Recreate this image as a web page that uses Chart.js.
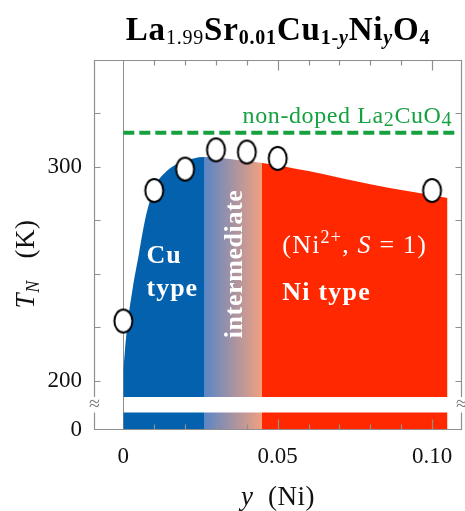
<!DOCTYPE html>
<html>
<head>
<meta charset="utf-8">
<title>TN vs Ni content</title>
<script src="https://cdn.jsdelivr.net/npm/chart.js@4.4.0/dist/chart.umd.min.js"></script>
<style>
  html, body { margin: 0; padding: 0; background: #fff; }
  #wrap { width: 465px; height: 511px; }
</style>
</head>
<body>
<div id="wrap"><canvas id="tnChart" width="465" height="511"></canvas></div>
<script>
// measured Neel temperatures (circles)
var nickel = [0, 0.01, 0.02, 0.03, 0.04, 0.05, 0.10];
var tN = [228, 289, 299, 308, 307, 304, 289];

// upper edge of the shaded ordered region
var edgeY = [0, 0.001, 0.003, 0.005, 0.007, 0.010, 0.014, 0.020, 0.026, 0.031, 0.038, 0.045, 0.060, 0.080, 0.105];
var edgeT = [205, 222, 243, 259, 275, 290, 298, 302.8, 304.7, 304.3, 303, 301.9, 298.1, 291.9, 285.5];

// phase boundaries along y
var cuEnd = 0.026, niStart = 0.045, regionEnd = 0.105;

// non-doped La2CuO4 reference
var undopedTN = 316;
var undopedSpan = [0, 0.108];

// part of the region drawn under the axis break
var lowBand = 8.5;

// ticks (all marks) and the ones that carry a label
var xTicks = [0, 0.01, 0.02, 0.03, 0.04, 0.05, 0.06, 0.07, 0.08, 0.09, 0.10];
var xLabels = [0, 0.05, 0.10];
var yTicksTop = [200, 225, 250, 275, 300, 325, 350];
var yLabelsTop = [200, 300];
var yLabelsLow = [0];

var SERIF = '"Liberation Serif", "Times New Roman", serif';
var BLUE = '#0461ad', RED = '#ff2800', GREEN = '#17a040', FRAME = '#8f8f8f';

function near(v, list) {
  for (var i = 0; i < list.length; i++) {
    if (Math.abs(v - list[i]) < 1e-6) return true;
  }
  return false;
}

// white ellipse with black outline, used as point style
var ring = document.createElement('canvas');
ring.width = 23; ring.height = 27;
(function() {
  var g = ring.getContext('2d');
  g.beginPath();
  g.ellipse(11.5, 13.5, 9, 11.5, 0, 0, Math.PI * 2);
  g.fillStyle = '#fff';
  g.fill();
  g.lineWidth = 2;
  g.strokeStyle = '#000';
  g.stroke();
})();

// blue -> gradient -> red fill across the three regimes
function phaseFill(ctx) {
  var chart = ctx.chart;
  if (!chart.chartArea) return BLUE;
  var x = chart.scales.x;
  var x0 = x.getPixelForValue(0), x3 = x.getPixelForValue(regionEnd);
  var a = (x.getPixelForValue(cuEnd) - x0) / (x3 - x0);
  var b = (x.getPixelForValue(niStart) - x0) / (x3 - x0);
  var g = chart.ctx.createLinearGradient(x0, 0, x3, 0);
  g.addColorStop(0, BLUE);
  g.addColorStop(a, BLUE);
  g.addColorStop(a + 0.002, '#5b86c6');
  g.addColorStop(b - 0.002, '#f0a080');
  g.addColorStop(b, RED);
  g.addColorStop(1, RED);
  return g;
}

// draw a row of differently styled pieces of text
function runs(c, parts, x, y, align, spacing) {
  c.letterSpacing = (spacing || 0) + 'px';
  var w = 0;
  parts.forEach(function(p) { c.font = p[1]; w += c.measureText(p[0]).width; });
  var cx = align === 'center' ? x - w / 2 : (align === 'right' ? x - w : x);
  c.textAlign = 'left';
  c.textBaseline = 'alphabetic';
  parts.forEach(function(p) {
    c.font = p[1];
    c.fillText(p[0], cx, y + (p[2] || 0));
    cx += c.measureText(p[0]).width;
  });
  c.letterSpacing = '0px';
}

function noPad(sc) {
  sc.paddingLeft = 0; sc.paddingRight = 0; sc.paddingTop = 0; sc.paddingBottom = 0;
}

var decor = {
  id: 'decor',
  afterDatasetsDraw: function(chart) {
    var c = chart.ctx, s = chart.scales;
    var px = function(v) { return s.x.getPixelForValue(v); };
    var py = function(v) { return s.yTop.getPixelForValue(v); };
    c.save();
    c.fillStyle = '#fff';
    runs(c, [['Cu', 'bold 26px ' + SERIF]], px(0.0075), py(255), 'left', 1);
    runs(c, [['type', 'bold 26px ' + SERIF]], px(0.0075), py(239.7), 'left', 1);
    runs(c, [['(Ni', '26px ' + SERIF], ['2+', '18px ' + SERIF, -10], [', ', '26px ' + SERIF],
             ['S', 'italic 26px ' + SERIF], [' = 1)', '26px ' + SERIF]], px(0.0515), py(259.7), 'left', 1.2);
    runs(c, [['Ni type', 'bold 26px ' + SERIF]], px(0.0515), py(238), 'left', 1.2);
    c.translate(px(0.0364), py(254.7));
    c.rotate(-Math.PI / 2);
    c.font = 'bold 26px ' + SERIF;
    c.letterSpacing = '0.6px';
    c.textAlign = 'center';
    c.textBaseline = 'middle';
    c.fillText('intermediate', 0, 0);
    c.restore();

    c.save();
    c.fillStyle = GREEN;
    runs(c, [['non-doped La', '24px ' + SERIF], ['2', '20px ' + SERIF, 3], ['CuO', '24px ' + SERIF], ['4', '20px ' + SERIF, 3]],
         px(0.1065), py(320.6), 'right', 0.6);
    c.restore();
  },
  afterDraw: function(chart) {
    var c = chart.ctx, a = chart.chartArea, s = chart.scales;
    var gapTop = s.yTop.bottom, gapBot = s.yBot.getPixelForValue(lowBand);
    var L = Math.round(a.left) + 0.5, R = Math.round(a.right) - 0.5;
    var T = Math.round(a.top) + 0.5, B = Math.round(a.bottom) - 0.5;
    c.save();
    c.strokeStyle = FRAME;
    c.lineWidth = 1.2;
    c.beginPath();
    c.moveTo(L, gapTop); c.lineTo(L, T); c.lineTo(R, T); c.lineTo(R, gapTop);
    c.moveTo(L, gapBot); c.lineTo(L, B); c.lineTo(R, B); c.lineTo(R, gapBot);
    // inward ticks on the temperature axis
    s.yTop.ticks.forEach(function(t) {
      if (t.value >= s.yTop.max) return;
      var y = Math.round(s.yTop.getPixelForValue(t.value)) + 0.5;
      c.moveTo(L, y); c.lineTo(L + 6, y);
      c.moveTo(R, y); c.lineTo(R - 6, y);
    });
    // inward ticks on the y (Ni) axis
    s.x.ticks.forEach(function(t) {
      var v = t.value;
      if (v === 0) return;
      var len = near(v, xLabels) ? 10 : 5;
      var x = Math.round(s.x.getPixelForValue(v)) + 0.5;
      c.moveTo(x, T); c.lineTo(x, T + len);
      c.moveTo(x, B); c.lineTo(x, B - len);
    });
    c.stroke();

    // axis break marks
    c.fillStyle = '#777';
    c.font = '20px ' + SERIF;
    c.textAlign = 'center';
    c.textBaseline = 'middle';
    c.fillText('\u2248', L, (gapTop + gapBot) / 2);
    c.fillText('\u2248', R, (gapTop + gapBot) / 2);

    // title
    c.fillStyle = '#000';
    var B1 = 'bold 33px ' + SERIF, S1 = 'bold 20px ' + SERIF;
    runs(c, [['La', B1], ['1.99', '20px ' + SERIF, 4], ['Sr', B1], ['0.01', S1, 4], ['Cu', B1],
             ['1-', S1, 4], ['y', 'italic bold 20px ' + SERIF, 4], ['Ni', B1], ['y', 'italic bold 20px ' + SERIF, 4],
             ['O', B1], ['4', S1, 4]], (a.left + a.right) / 2, 40, 'center', 0.8);

    // axis titles
    c.fillStyle = '#111';
    runs(c, [['y', 'italic 27px ' + SERIF], ['  (Ni)', '27px ' + SERIF]], (a.left + a.right) / 2, 505, 'center', 0.5);
    c.translate(34, 264);
    c.rotate(-Math.PI / 2);
    runs(c, [['T', 'italic 27px ' + SERIF], ['N', 'italic 18px ' + SERIF, 5], ['   (K)', '27px ' + SERIF]], 0, 0, 'center', 0.5);
    c.restore();
  }
};

var tickFont = { family: SERIF, size: 23 };

new Chart(document.getElementById('tnChart'), {
  type: 'line',
  data: {
    datasets: [
      {
        label: 'measured',
        data: nickel.map(function(v, i) { return { x: v, y: tN[i] }; }),
        yAxisID: 'yTop',
        showLine: false,
        pointStyle: ring,
        pointRadius: 11,
        order: 0
      },
      {
        label: 'non-doped La2CuO4',
        data: undopedSpan.map(function(v) { return { x: v, y: undopedTN }; }),
        yAxisID: 'yTop',
        borderColor: GREEN,
        borderWidth: 4,
        borderDash: [11, 5],
        pointRadius: 0,
        fill: false,
        order: 1
      },
      {
        label: 'region',
        data: edgeY.map(function(v, i) { return { x: v, y: edgeT[i] }; }),
        yAxisID: 'yTop',
        fill: 'start',
        backgroundColor: phaseFill,
        borderColor: 'rgba(0,0,0,0)',
        borderWidth: 0,
        pointRadius: 0,
        cubicInterpolationMode: 'monotone',
        order: 2
      },
      {
        label: 'region below break',
        data: [{ x: 0, y: lowBand }, { x: regionEnd, y: lowBand }],
        yAxisID: 'yBot',
        fill: 'start',
        backgroundColor: phaseFill,
        borderColor: 'rgba(0,0,0,0)',
        borderWidth: 0,
        pointRadius: 0,
        order: 3
      }
    ]
  },
  options: {
    responsive: false,
    devicePixelRatio: 1,
    animation: false,
    events: [],
    layout: { autoPadding: false, padding: { top: 60, right: 3, left: 0, bottom: 0 } },
    plugins: { legend: { display: false }, title: { display: false }, tooltip: { enabled: false } },
    scales: {
      x: {
        type: 'linear',
        position: 'bottom',
        min: -0.0095,
        max: 0.1097,
        border: { display: false },
        grid: {
          drawTicks: false,
          color: function(ctx) { return ctx.tick && ctx.tick.value === 0 ? FRAME : 'rgba(0,0,0,0)'; }
        },
        afterBuildTicks: function(sc) { sc.ticks = xTicks.map(function(v) { return { value: v }; }); },
        ticks: {
          padding: 13,
          autoSkip: false,
          maxRotation: 0,
          color: '#111',
          font: tickFont,
          callback: function(v) {
            if (!near(v, xLabels)) return '';
            return v === 0 ? '0' : v.toFixed(2);
          }
        },
        afterFit: function(sc) { sc.height = 81; noPad(sc); }
      },
      yBot: {
        type: 'linear',
        position: 'left',
        stack: 'tn',
        stackWeight: 33,
        min: 0,
        max: 16,
        border: { display: false },
        grid: { display: false, drawTicks: false },
        afterBuildTicks: function(sc) { sc.ticks = yLabelsLow.map(function(v) { return { value: v }; }); },
        ticks: { padding: 12, color: '#111', font: tickFont },
        afterFit: function(sc) { sc.width = 94; noPad(sc); }
      },
      yTop: {
        type: 'linear',
        position: 'left',
        stack: 'tn',
        stackWeight: 337,
        min: 192.5,
        max: 350,
        border: { display: false },
        grid: { display: false, drawTicks: false },
        afterBuildTicks: function(sc) { sc.ticks = yTicksTop.map(function(v) { return { value: v }; }); },
        ticks: {
          padding: 12,
          autoSkip: false,
          color: '#111',
          font: tickFont,
          callback: function(v) { return near(v, yLabelsTop) ? String(v) : ''; }
        },
        afterFit: function(sc) { sc.width = 94; noPad(sc); }
      }
    }
  },
  plugins: [decor]
});
</script>
</body>
</html>
